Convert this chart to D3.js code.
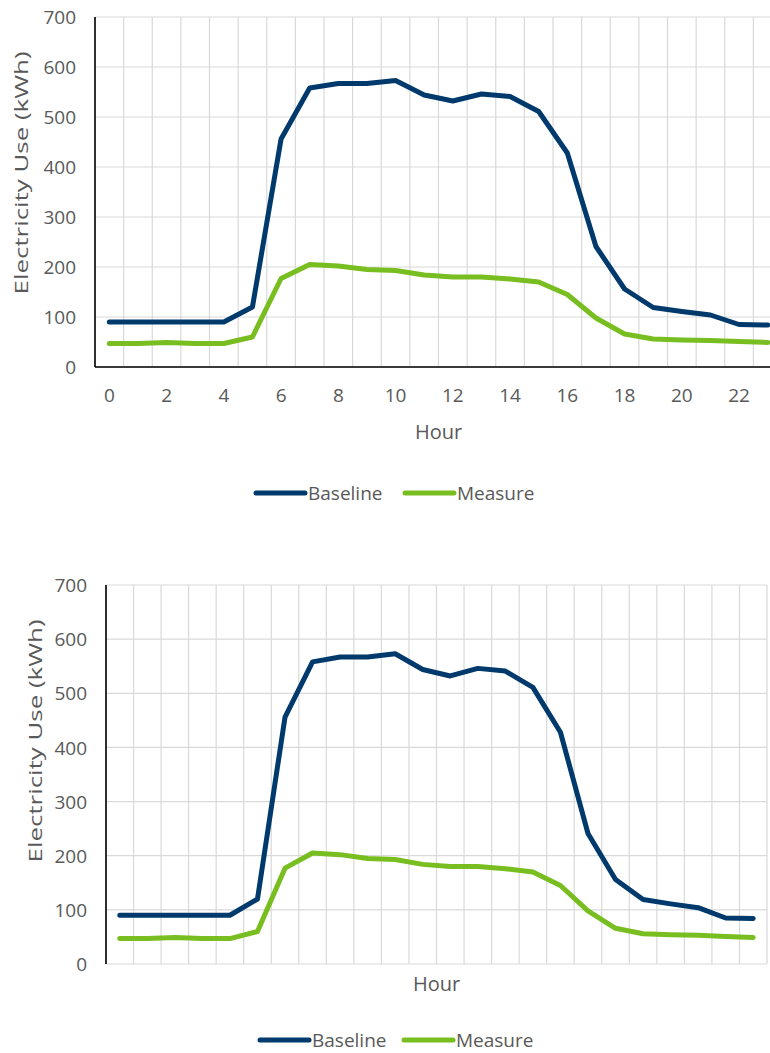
<!DOCTYPE html>
<html>
<head>
<meta charset="utf-8">
<script src="https://cdn.jsdelivr.net/npm/d3@7"></script>
<style>
  html, body { margin: 0; padding: 0; background: #ffffff; }
  svg { display: block; font-family: "Open Sans", "Noto Sans", sans-serif; }
</style>
</head>
<body>
<svg id="chart" width="770" height="1053"></svg>
<script>
// Hourly electricity use, baseline vs. measure
const hours = d3.range(0, 24);
const baseline = [90, 90, 90, 90, 90, 120, 456, 558, 567, 567, 573, 544, 532, 546, 541, 511, 428, 241, 156, 119, 111, 104, 85, 84];
const measure  = [47, 47, 49, 47, 47, 60, 177, 205, 202, 195, 193, 184, 180, 180, 176, 170, 145, 98, 66, 56, 54, 53, 51, 49];
const yTicks = [0, 100, 200, 300, 400, 500, 600, 700];
const xTickLabels = hours.filter(h => h % 2 === 0);
const seriesNames = ["Baseline", "Measure"];
const seriesColors = ["#003a6c", "#78be20"];

const svg = d3.select("#chart");
const textColor = "#595959";
const gridColor = "#d9d9d9";

function drawChart(cfg) {
  const g = svg.append("g");
  const x = d3.scaleBand().domain(hours).range([cfg.left, cfg.right]).padding(0);
  const y = d3.scaleLinear().domain([0, 700]).range([cfg.bottom, cfg.top]);
  const cx = h => x(h) + x.bandwidth() / 2;

  // horizontal gridlines
  g.append("g").selectAll("line").data(yTicks).join("line")
    .attr("x1", cfg.left).attr("x2", cfg.right)
    .attr("y1", d => y(d)).attr("y2", d => y(d))
    .attr("stroke", gridColor).attr("stroke-width", 1.2);

  // vertical gridlines on category boundaries
  const edges = hours.map(h => x(h)).concat([cfg.right]);
  g.append("g").selectAll("line").data(edges).join("line")
    .attr("x1", d => d).attr("x2", d => d)
    .attr("y1", cfg.top).attr("y2", cfg.bottom)
    .attr("stroke", gridColor).attr("stroke-width", 1.2);

  // y axis labels
  const yAxis = d3.axisLeft(y).tickValues(yTicks).tickSize(0).tickPadding(0);
  const ya = g.append("g").attr("transform", `translate(${cfg.yLabelX},0)`).call(yAxis);
  ya.select(".domain").remove();
  ya.selectAll("text").attr("fill", textColor).style("font-size", "19px")
    .attr("font-family", "'Open Sans', sans-serif").attr("dy", "0.35em");

  // axis lines
  g.append("line").attr("x1", cfg.left).attr("x2", cfg.left)
    .attr("y1", cfg.top).attr("y2", cfg.bottom)
    .attr("stroke", "#000").attr("stroke-width", 1.6);
  if (cfg.xAxisLine) {
    g.append("line").attr("x1", cfg.left).attr("x2", cfg.right)
      .attr("y1", cfg.bottom).attr("y2", cfg.bottom)
      .attr("stroke", "#000").attr("stroke-width", 1.6);
  }

  // x tick labels
  if (cfg.xLabels) {
    g.append("g").selectAll("text").data(xTickLabels).join("text")
      .attr("x", d => cx(d)).attr("y", cfg.bottom + 28)
      .attr("dy", "0.35em").attr("text-anchor", "middle")
      .attr("fill", textColor).style("font-size", "19px")
      .text(d => d);
  }

  // series lines
  const line = d3.line().x((d, i) => cx(hours[i])).y(d => y(d));
  [baseline, measure].forEach((vals, i) => {
    g.append("path").datum(vals).attr("d", line)
      .attr("fill", "none").attr("stroke", seriesColors[i])
      .attr("stroke-width", 5).attr("stroke-linejoin", "round").attr("stroke-linecap", "round");
  });

  // axis titles
  g.append("text")
    .attr("transform", `translate(${cfg.yTitleX},${cfg.yTitleY}) rotate(-90)`)
    .attr("text-anchor", "middle").attr("dy", "0.35em")
    .attr("fill", textColor).style("font-size", "19px")
    .attr("textLength", 243).attr("lengthAdjust", "spacingAndGlyphs")
    .text("Electricity Use (kWh)");
  g.append("text")
    .attr("x", (cfg.left + cfg.right) / 2).attr("y", cfg.hourY)
    .attr("dy", "0.35em").attr("text-anchor", "middle")
    .attr("fill", textColor).style("font-size", "20px")
    .text("Hour");

  // legend
  const lg = g.append("g");
  cfg.legendX.forEach((lx, i) => {
    lg.append("line").attr("x1", lx).attr("x2", lx + 49)
      .attr("y1", cfg.legendY).attr("y2", cfg.legendY)
      .attr("stroke", seriesColors[i]).attr("stroke-width", 5).attr("stroke-linecap", "round");
    lg.append("text").attr("x", lx + 52).attr("y", cfg.legendY)
      .attr("dy", "0.35em").attr("fill", textColor).style("font-size", "19px")
      .text(seriesNames[i]);
  });
}

drawChart({
  left: 95, right: 782, top: 17, bottom: 367,
  yLabelX: 76, xAxisLine: true, xLabels: true,
  yTitleX: 21, yTitleY: 173, hourY: 432,
  legendX: [256, 405], legendY: 493
});

drawChart({
  left: 106, right: 767, top: 585, bottom: 964,
  yLabelX: 87, xAxisLine: false, xLabels: false,
  yTitleX: 35, yTitleY: 741, hourY: 984,
  legendX: [260, 404], legendY: 1040
});
</script>
</body>
</html>
